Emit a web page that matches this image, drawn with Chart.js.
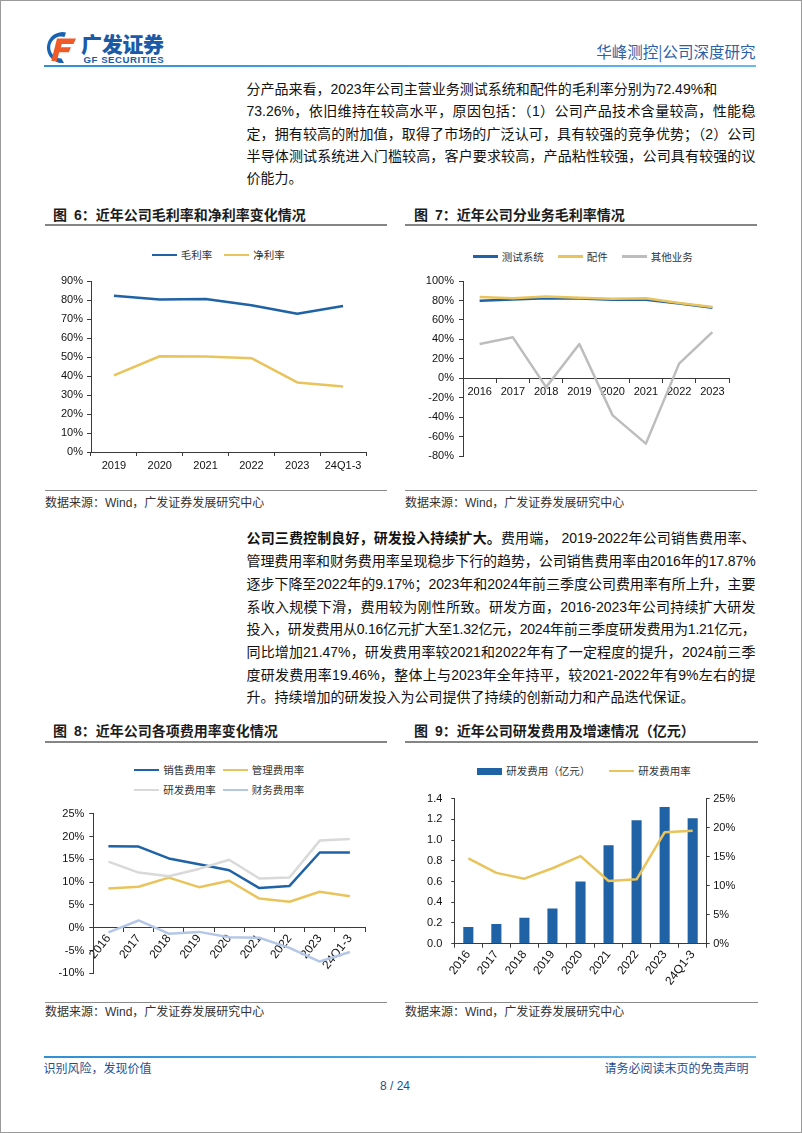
<!DOCTYPE html>
<html lang="zh-CN">
<head>
<meta charset="utf-8">
<script src="https://cdn.jsdelivr.net/npm/chart.js@4.4.1/dist/chart.umd.min.js"></script>
<style>
html,body{margin:0;padding:0;background:#fff;}
#page{position:relative;width:802px;height:1133px;overflow:hidden;background:#fff;
  font-family:'Liberation Sans','Noto Sans CJK SC',sans-serif;color:#111;}
.frame{position:absolute;left:0;top:0;width:802px;height:1133px;box-sizing:border-box;border:1px solid #9a9a9a;pointer-events:none;}
.abs{position:absolute;white-space:nowrap;}
.hline{position:absolute;height:2px;background:linear-gradient(90deg,#2f8fd3,#49a9e3 60%,#6bbbe9);}
.para{position:absolute;left:246.5px;width:509px;font-size:14px;color:#111;}
.para .ln{width:509px;white-space:nowrap;overflow:visible;}
.para .ln.j{text-align:justify;text-align-last:justify;}
.title{position:absolute;font-family:'Noto Sans CJK SC',sans-serif;font-weight:700;font-size:14px;color:#1c1c1c;line-height:18px;white-space:nowrap;}
.title .n{margin-left:7px;font-family:'Liberation Sans',sans-serif;}
.tline{position:absolute;height:1.5px;background:#858585;}
.sline{position:absolute;height:1px;background:#8a8a8a;}
.src{position:absolute;font-size:12px;color:#333;line-height:16px;white-space:nowrap;}
canvas{position:absolute;}
.leg{position:absolute;display:flex;align-items:center;font-family:'Noto Sans CJK SC',sans-serif;font-size:10.5px;color:#333;line-height:14px;height:14px;white-space:nowrap;}
.leg .li{display:flex;align-items:center;}
.leg .ml{display:inline-block;width:25px;height:2.5px;margin-right:4px;}
.leg .mb{display:inline-block;width:25px;height:7px;margin-right:4px;}
.leg8{display:grid;grid-template-columns:88.4px 88.4px;row-gap:6px;height:auto;}
.foot{position:absolute;font-family:'Noto Sans CJK SC',sans-serif;font-size:12px;color:#1f4f8f;line-height:16px;white-space:nowrap;}
</style>
</head>
<body>
<div id="page">
  <!-- header -->
  <svg class="abs" style="left:42px;top:30px" width="36" height="35" viewBox="0 0 36 35">
    <path d="M24 2.5 A15.5 15.5 0 1 0 22 33 L19.5 28.5 A11 11 0 1 1 22.5 7 Z" fill="#1a63b3"/>
    <path d="M15 8.5 H34 L31.5 14 H19.8 L18.8 17.2 H29 L26.8 22.3 H17.2 L14.8 31 H9.3 Z" fill="#ef5a29"/>
  </svg>
  <div class="abs" style="left:81px;top:31px;font-family:'Noto Sans CJK SC',sans-serif;font-weight:900;font-size:21px;line-height:25px;color:#1b5aa6;letter-spacing:-0.3px">广发证券</div>
  <div class="abs" style="left:83.5px;top:54px;font-family:'Liberation Sans',sans-serif;font-weight:700;font-size:9.6px;line-height:11px;color:#1b5aa6;letter-spacing:0.55px">GF SECURITIES</div>
  <div class="abs" style="right:46.5px;top:41px;font-family:'Noto Sans CJK SC',sans-serif;font-size:15.5px;line-height:20px;color:#2c62a8">华峰测控|公司深度研究</div>
  <div class="hline" style="left:43.5px;top:64.5px;width:712px"></div>

  <!-- paragraph 1 -->
  <div class="para" style="top:78.2px;line-height:22.3px">
    <div class="ln"><span>分产品来看，2023年公司主营业务测试系统和配件的毛利率分别为72.49%和</span></div>
    <div class="ln j"><span>73.26%，依旧维持在较高水平，原因包括：（1）公司产品技术含量较高，性能稳</span></div>
    <div class="ln j"><span>定，拥有较高的附加值，取得了市场的广泛认可，具有较强的竞争优势；（2）公司</span></div>
    <div class="ln j"><span>半导体测试系统进入门槛较高，客户要求较高，产品粘性较强，公司具有较强的议</span></div>
    <div class="ln"><span>价能力。</span></div>
  </div>

  <!-- figure 6 / 7 titles -->
  <div class="title" style="left:53px;top:205px">图<span class="n">6</span>：近年公司毛利率和净利率变化情况</div>
  <div class="tline" style="left:45px;top:224.3px;width:342px"></div>
  <div class="title" style="left:414px;top:205px">图<span class="n">7</span>：近年公司分业务毛利率情况</div>
  <div class="tline" style="left:405px;top:224.3px;width:352px"></div>

  <div class="leg" id="leg6" style="left:151.7px;top:248px"></div>
  <div class="leg" id="leg7" style="left:472.7px;top:249.7px"></div>
  <canvas id="c6" width="348" height="214" style="left:42px;top:268px"></canvas>
  <canvas id="c7" width="355" height="200" style="left:402px;top:268px"></canvas>

  <div class="sline" style="left:45px;top:490.2px;width:342px"></div>
  <div class="sline" style="left:405px;top:490.2px;width:352px"></div>
  <div class="src" style="left:45px;top:495px">数据来源：Wind，广发证券发展研究中心</div>
  <div class="src" style="left:405px;top:495px">数据来源：Wind，广发证券发展研究中心</div>

  <!-- paragraph 2 -->
  <div class="para" style="top:526.4px;line-height:22.7px">
    <div class="ln j"><span><b style="font-family:'Noto Sans CJK SC',sans-serif">公司三费控制良好，研发投入持续扩大。</b>费用端， 2019-2022年公司销售费用率、</span></div>
    <div class="ln j"><span>管理费用率和财务费用率呈现稳步下行的趋势，公司销售费用率由2016年的17.87%</span></div>
    <div class="ln j"><span>逐步下降至2022年的9.17%；2023年和2024年前三季度公司费用率有所上升，主要</span></div>
    <div class="ln j"><span>系收入规模下滑，费用较为刚性所致。研发方面，2016-2023年公司持续扩大研发</span></div>
    <div class="ln j"><span>投入，研发费用从0.16亿元扩大至1.32亿元，2024年前三季度研发费用为1.21亿元，</span></div>
    <div class="ln j"><span>同比增加21.47%，研发费用率较2021和2022年有了一定程度的提升，2024前三季</span></div>
    <div class="ln j"><span>度研发费用率19.46%，整体上与2023年全年持平，较2021-2022年有9%左右的提</span></div>
    <div class="ln"><span>升。持续增加的研发投入为公司提供了持续的创新动力和产品迭代保证。</span></div>
  </div>

  <!-- figure 8 / 9 titles -->
  <div class="title" style="left:53px;top:721px">图<span class="n">8</span>：近年公司各项费用率变化情况</div>
  <div class="tline" style="left:45px;top:741px;width:342px"></div>
  <div class="title" style="left:414px;top:721px">图<span class="n">9</span>：近年公司研发费用及增速情况（亿元）</div>
  <div class="tline" style="left:405px;top:741px;width:353px"></div>

  <div class="leg leg8" id="leg8" style="left:134.3px;top:763px"></div>
  <div class="leg" id="leg9" style="left:477.3px;top:764px"></div>
  <canvas id="c8" width="348" height="185" style="left:42px;top:800px"></canvas>
  <canvas id="c9" width="355" height="207" style="left:402px;top:783px"></canvas>

  <div class="sline" style="left:45px;top:1001.8px;width:342px"></div>
  <div class="sline" style="left:405px;top:1001.8px;width:353px"></div>
  <div class="src" style="left:45px;top:1003.7px">数据来源：Wind，广发证券发展研究中心</div>
  <div class="src" style="left:405px;top:1003.7px">数据来源：Wind，广发证券发展研究中心</div>

  <!-- footer -->
  <div class="hline" style="left:43.5px;top:1055.7px;width:712px"></div>
  <div class="foot" style="left:43.5px;top:1059.7px">识别风险，发现价值</div>
  <div class="foot" style="right:53.5px;top:1059.7px">请务必阅读末页的免责声明</div>
  <div class="foot" style="left:0;width:790px;text-align:center;top:1077.7px;font-family:'Liberation Sans',sans-serif;font-size:12px">8 / 24</div>

  <div class="frame"></div>
</div>

<script>
// ---------------- data ----------------
const fig6Categories = ['2019', '2020', '2021', '2022', '2023', '24Q1-3'];
const fig6GrossMargin = [82.3, 80.2, 80.5, 77.2, 72.8, 76.8];
const fig6NetMargin = [40.3, 50.4, 50.3, 49.4, 36.6, 34.5];
const fig6SeriesNames = ['毛利率', '净利率'];

const fig7Categories = ['2016', '2017', '2018', '2019', '2020', '2021', '2022', '2023'];
const fig7TestSystem = [79.8, 81.1, 82.4, 82.1, 80.8, 80.8, 76.8, 72.49];
const fig7Accessories = [83.7, 82.4, 84.1, 82.8, 81.8, 82.4, 77.5, 73.26];
const fig7Other = [35.3, 42.2, -8.9, 35.3, -37.9, -66.9, 15.2, 47.5];
const fig7SeriesNames = ['测试系统', '配件', '其他业务'];

const fig8Categories = ['2016', '2017', '2018', '2019', '2020', '2021', '2022', '2023', '24Q1-3'];
const fig8SalesRate = [17.87, 17.8, 15.2, 13.9, 12.6, 8.7, 9.17, 16.5, 16.5];
const fig8AdminRate = [8.6, 9.0, 11.0, 8.9, 10.3, 6.4, 5.7, 7.9, 6.9];
const fig8RdRate = [14.5, 12.1, 11.3, 12.9, 14.9, 10.8, 11.0, 19.1, 19.46];
const fig8FinRate = [-1.0, 1.6, -1.3, -0.9, -2.1, -2.2, -4.4, -7.4, -5.3];
const fig8SeriesNames = ['销售费用率', '管理费用率', '研发费用率', '财务费用率'];

const fig9Categories = ['2016', '2017', '2018', '2019', '2020', '2021', '2022', '2023', '24Q1-3'];
const fig9RdExpense = [0.16, 0.19, 0.25, 0.34, 0.60, 0.95, 1.19, 1.32, 1.21];
const fig9RdRate = [14.7, 12.2, 11.2, 13.0, 15.1, 10.8, 11.1, 19.2, 19.46];
const fig9SeriesNames = ['研发费用（亿元）', '研发费用率'];

// ---------------- styles ----------------
const BLUE = '#1f62a5';
const GOLD = '#e9c45c';
const GRAY = '#bdbdbd';
const LGRAY = '#d9d9d9';
const LBLUE = '#b4c7e7';
const AXIS = '#3a3a3a';

// fit justified paragraph lines
document.querySelectorAll('.para .ln').forEach(el => {
  const span = el.firstElementChild;
  const W = 509;
  const w = span.getBoundingClientRect().width;
  if (w > W) {
    const n = span.textContent.length;
    span.style.letterSpacing = ((W - w) / n - 0.02).toFixed(3) + 'px';
  }
});

function buildLegend(id, items, gap) {
  const el = document.getElementById(id);
  items.forEach(it => {
    const d = document.createElement('span');
    d.className = 'li';
    if (gap) d.style.marginRight = gap + 'px';
    const m = document.createElement('i');
    m.className = it.kind === 'bar' ? 'mb' : 'ml';
    m.style.background = it.color;
    d.appendChild(m);
    d.appendChild(document.createTextNode(it.label));
    el.appendChild(d);
  });
}
buildLegend('leg6', [{label: fig6SeriesNames[0], color: BLUE}, {label: fig6SeriesNames[1], color: GOLD}], 12);
buildLegend('leg7', [{label: fig7SeriesNames[0], color: BLUE}, {label: fig7SeriesNames[1], color: GOLD}, {label: fig7SeriesNames[2], color: GRAY}], 14);
buildLegend('leg8', [{label: fig8SeriesNames[0], color: BLUE}, {label: fig8SeriesNames[1], color: GOLD}, {label: fig8SeriesNames[2], color: LGRAY}, {label: fig8SeriesNames[3], color: LBLUE}], 0);
buildLegend('leg9', [{label: fig9SeriesNames[0], color: BLUE, kind: 'bar'}, {label: fig9SeriesNames[1], color: GOLD}], 19);

// ---------------- charts ----------------
Chart.defaults.font.family = "'Liberation Sans', Arial, sans-serif";
Chart.defaults.font.size = 11;
Chart.defaults.color = '#111';

function line(label, data, color, order) {
  return {type: 'line', label, data, borderColor: color, backgroundColor: color, borderWidth: 2.5,
    pointRadius: 0, tension: 0, fill: false, order, borderJoinStyle: 'round'};
}
const baseOpts = {
  responsive: false, animation: false, devicePixelRatio: 1,
  plugins: {legend: {display: false}, tooltip: {enabled: false}}
};
function catAxis(extra) {
  return Object.assign({
    type: 'category', offset: true,
    grid: {offset: true, drawOnChartArea: false, drawTicks: true, tickLength: 4, color: AXIS},
    border: {display: true, color: AXIS, width: 1},
    ticks: {autoSkip: false, maxRotation: 0, minRotation: 0, padding: 3}
  }, extra);
}
function valAxis(min, max, step, fmt, width, tl, pad, extra) {
  return Object.assign({
    min, max,
    grid: {drawOnChartArea: false, drawTicks: true, tickLength: tl, color: AXIS},
    border: {display: true, color: AXIS, width: 1},
    ticks: {stepSize: step, padding: pad, callback: fmt},
    afterFit: s => { s.width = width; }
  }, extra);
}
const pct = v => Math.round(v) + '%';

// Figure 6
new Chart(document.getElementById('c6'), {
  type: 'line',
  data: {labels: fig6Categories, datasets: [
    line(fig6SeriesNames[0], fig6GrossMargin, BLUE, 2),
    line(fig6SeriesNames[1], fig6NetMargin, GOLD, 1)
  ]},
  options: Object.assign({}, baseOpts, {
    layout: {padding: {top: 13, right: 24, left: 0, bottom: 0}},
    scales: {
      x: catAxis({afterFit: s => { s.height = 30; }}),
      y: valAxis(0, 90, 10, pct, 49, 4, 4)
    }
  })
});

// Figure 7
new Chart(document.getElementById('c7'), {
  type: 'line',
  data: {labels: fig7Categories, datasets: [
    line(fig7SeriesNames[0], fig7TestSystem, BLUE, 3),
    line(fig7SeriesNames[1], fig7Accessories, GOLD, 2),
    line(fig7SeriesNames[2], fig7Other, GRAY, 1)
  ]},
  options: Object.assign({}, baseOpts, {
    layout: {padding: {top: 13, right: 28, left: 0, bottom: 5}},
    scales: {
      x: catAxis({position: {y: 0}}),
      y: valAxis(-80, 100, 20, pct, 61, 4, 5)
    }
  })
});

// Figure 8
const rot = {autoSkip: false, maxRotation: 52, minRotation: 52, padding: 0, font: {size: 12}};
new Chart(document.getElementById('c8'), {
  type: 'line',
  data: {labels: fig8Categories, datasets: [
    line(fig8SeriesNames[0], fig8SalesRate, BLUE, 4),
    line(fig8SeriesNames[1], fig8AdminRate, GOLD, 3),
    line(fig8SeriesNames[2], fig8RdRate, LGRAY, 2),
    line(fig8SeriesNames[3], fig8FinRate, LBLUE, 1)
  ]},
  options: Object.assign({}, baseOpts, {
    layout: {padding: {top: 13.7, right: 25, left: 0, bottom: 5}},
    scales: {
      x: catAxis({position: {y: 0}, ticks: rot}),
      y: valAxis(-10, 25, 5, pct, 51.3, 4, 5)
    }
  })
});

// Figure 9
new Chart(document.getElementById('c9'), {
  data: {labels: fig9Categories, datasets: [
    {type: 'bar', label: fig9SeriesNames[0], data: fig9RdExpense, backgroundColor: BLUE,
      borderWidth: 0, barPercentage: 0.36, categoryPercentage: 1, yAxisID: 'y', order: 2},
    Object.assign(line(fig9SeriesNames[1], fig9RdRate, GOLD, 1), {yAxisID: 'y1'})
  ]},
  options: Object.assign({}, baseOpts, {
    layout: {padding: {top: 13, right: 0, left: 0, bottom: 0}},
    scales: {
      x: catAxis({ticks: rot, afterFit: s => { s.height = 46.3; }}),
      y: valAxis(0, 1.4, 0.2, v => v.toFixed(1), 52.3, 3, 9, {position: 'left'}),
      y1: valAxis(0, 25, 5, pct, 50.3, 3, 3.5, {position: 'right'})
    }
  })
});
</script>
</body>
</html>
